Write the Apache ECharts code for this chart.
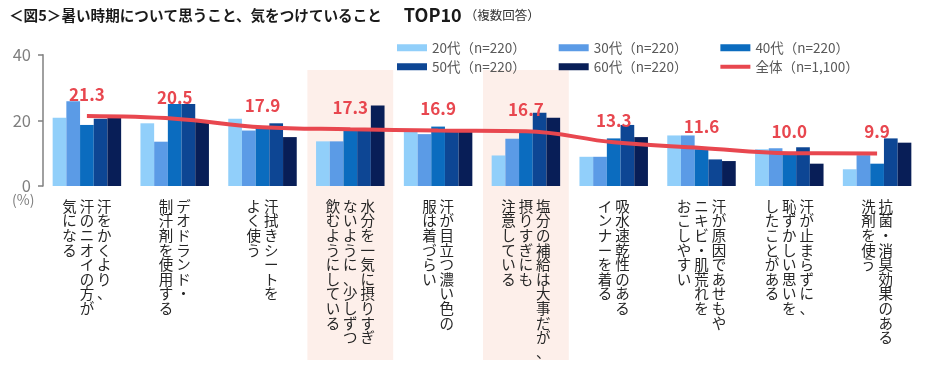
<!DOCTYPE html>
<html><head><meta charset="utf-8">
<script src="https://cdn.jsdelivr.net/npm/echarts@6/dist/echarts.min.js"></script>
<style>html,body{margin:0;padding:0;background:#fff}#c{width:934px;height:366px}</style>
</head><body><div id="c"></div>
<script>
// ---- data ----
const labelColumns = [
  ["汗をかくより、","汗のニオイの方が","気になる"],
  ["デオドランド・","制汗剤を使用する"],
  ["汗拭きシートを","よく使う"],
  ["水分を一気に摂りすぎ","ないように、少しずつ","飲むようにしている"],
  ["汗が目立つ濃い色の","服は着づらい"],
  ["塩分の補給は大事だが、","摂りすぎにも","注意している"],
  ["吸水速乾性のある","インナーを着る"],
  ["汗が原因であせもや","ニキビ・肌荒れを","おこしやすい"],
  ["汗が止まらずに、","恥ずかしい思いを","したことがある"],
  ["抗菌・消臭効果のある","洗剤を使う"]
];
const categories = labelColumns.map(c => c.join(''));
const seriesNames = ["20代（n=220）","30代（n=220）","40代（n=220）","50代（n=220）","60代（n=220）"];
const totalName = "全体（n=1,100）";
const age20 = [20.8, 19.1, 20.5, 13.6, 16.5,  9.3,  8.9, 15.4, 11.2,  5.1];
const age30 = [25.8, 13.5, 16.9, 13.6, 15.8, 14.4,  8.9, 15.4, 11.5,  9.4];
const age40 = [18.6, 25.0, 17.9, 17.1, 18.1, 16.5, 14.5, 11.2,  9.9,  6.8];
const age50 = [20.5, 25.0, 19.1, 17.1, 17.1, 22.3, 18.6,  8.1, 11.8, 14.5];
const age60 = [20.9, 19.5, 14.9, 24.5, 16.8, 20.8, 14.9,  7.6,  6.8, 13.2];
const total = [21.3, 20.5, 17.9, 17.3, 16.9, 16.7, 13.3, 11.6, 10.0,  9.9];
const highlighted = [3, 5];
const yTicks = [0, 20, 40];

// ---- styles ----
const FONT = '"Noto Sans CJK JP", "Noto Sans", sans-serif';
const barColors = ['#91CFFA', '#5B9BE6', '#0B6CBF', '#0D4694', '#081E57'];
const lineColor = '#E8474F';

function vertical(cols) {
  const arr = cols.map(c => Array.from(c));
  const n = Math.max(...arr.map(a => a.length));
  const lines = [];
  for (let i = 0; i < n; i++) {
    const row = [];
    for (let j = arr.length - 1; j >= 0; j--) row.push(arr[j][i] || '\u3000');
    lines.push(row.join('\u2009'));
  }
  return lines.join('\n');
}

const chart = echarts.init(document.getElementById('c'), null, {renderer: 'canvas'});
const barData = [age20, age30, age40, age50, age60];
const series = barData.map((d, i) => ({
  name: seriesNames[i], type: 'bar', data: d,
  barGap: '0%', barCategoryGap: '22%',
  itemStyle: {color: barColors[i]}, z: 2
}));
series.push({
  name: totalName, type: 'line', data: total, smooth: 0.4,
  symbol: 'circle', symbolSize: 0.1, showSymbol: true,
  lineStyle: {color: lineColor, width: 4}, itemStyle: {color: lineColor},
  label: {show: true, position: 'top', distance: 13, color: lineColor,
    fontSize: 17, fontWeight: 'bold', fontFamily: FONT,
    formatter: p => p.value.toFixed(1)},
  z: 5
});

const legendCommon = {
  left: 392, itemWidth: 30, itemHeight: 7, itemGap: 33, icon: 'rect',
  textStyle: {fontSize: 13.5, color: '#595959', fontFamily: FONT}
};

chart.setOption({
  animation: false,
  textStyle: {fontFamily: FONT},
  title: {
    left: 4, top: 1,
    text: '{a|＜図5＞暑い時期について思うこと、気をつけていること}{t|TOP10}{s|（複数回答）}',
    textStyle: {fontFamily: FONT,
      rich: {
        a: {fontSize: 14.6, fontWeight: 'bold', color: '#1a1a1a', fontFamily: FONT},
        t: {fontSize: 18, fontWeight: 'bold', color: '#1a1a1a', fontFamily: FONT, padding: [0, 0, 0, 22]},
        s: {fontSize: 12.5, fontWeight: 'normal', color: '#333', fontFamily: FONT, padding: [0, 0, 0, 3]}
      }}
  },
  legend: [
    Object.assign({top: 36, data: seriesNames.slice(0, 3)}, legendCommon),
    Object.assign({top: 55, data: [seriesNames[3], seriesNames[4], {name: totalName, icon: 'path://M0,0 L30,0 L30,4 L0,4 Z'}]}, legendCommon)
  ],
  grid: {left: 43, right: 13, top: 54.7, bottom: 180, containLabel: false},
  xAxis: {
    type: 'category', data: categories,
    axisLine: {show: false}, axisTick: {show: false},
    axisLabel: {interval: 0, margin: 13, fontSize: 14.5, lineHeight: 14.6, color: '#262626',
      fontFamily: FONT, formatter: (v, idx) => vertical(labelColumns[idx])}
  },
  yAxis: {
    type: 'value', min: yTicks[0], max: yTicks[yTicks.length - 1], interval: 20,
    splitLine: {show: false},
    axisLine: {show: true, lineStyle: {color: '#808080', width: 1.5}},
    axisTick: {show: true, length: 5, lineStyle: {color: '#808080', width: 1.5}},
    axisLabel: {fontSize: 16.5, color: '#7f7f7f', margin: 12, fontFamily: FONT}
  },
  series: series
});

// highlight bands behind categories
const c0 = chart.convertToPixel({xAxisIndex: 0}, 0);
const c1 = chart.convertToPixel({xAxisIndex: 0}, 1);
const bw = c1 - c0;
const elements = highlighted.map(i => {
  const cx = chart.convertToPixel({xAxisIndex: 0}, i);
  return {type: 'rect', z: -10, silent: true,
    shape: {x: cx - bw / 2 + 1, y: 70, width: bw - 2, height: 290},
    style: {fill: '#FDEFEA'}};
});
elements.push({type: 'text', left: 12, top: 193, z: 10,
  style: {text: '(%)', fontSize: 14, fill: '#7f7f7f', fontFamily: FONT}});
chart.setOption({graphic: {elements: elements}});
</script></body></html>
